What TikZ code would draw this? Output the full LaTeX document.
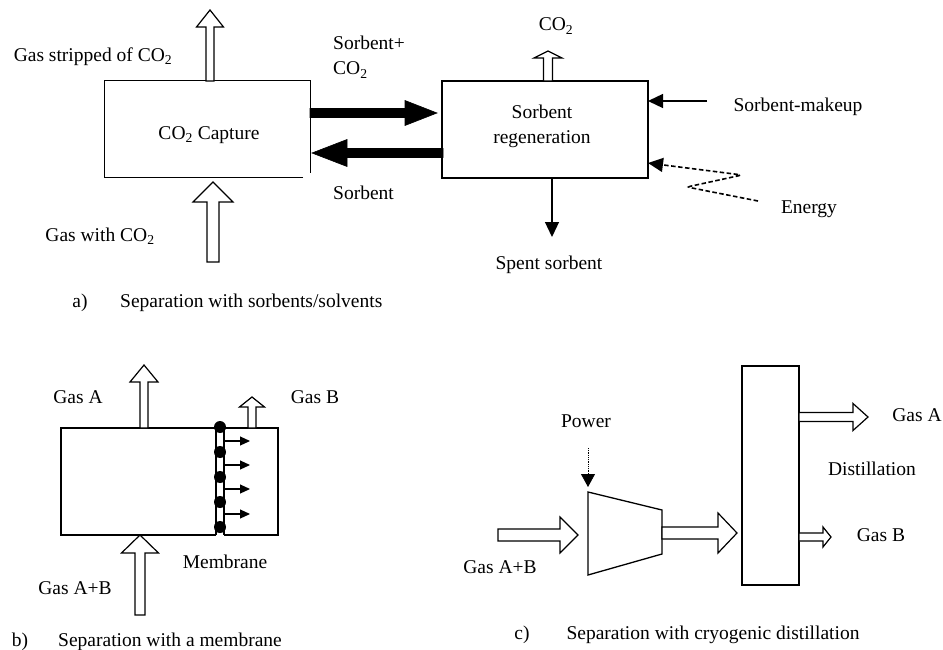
\documentclass[tikz,border=0pt]{standalone}
\usepackage{fontspec}
\setmainfont{Liberation Serif}
\usetikzlibrary{calc,arrows.meta}
\newcommand{\blockarrow}[6]{% style, from, to, shaft half width, head half width, head length
  \path ($(#3)!#6!(#2)$) coordinate (ba-h);
  \draw[#1] ($(#2)!#4!90:(#3)$) -- ($(ba-h)!#4!-90:(#2)$) -- ($(ba-h)!#5!-90:(#2)$) -- (#3)
     -- ($(ba-h)!#5!90:(#2)$) -- ($(ba-h)!#4!90:(#2)$) -- ($(#2)!#4!-90:(#3)$) -- cycle;
}
\tikzset{
  hollow/.style={draw=black, fill=white, line width=1.2pt, line join=miter},
  solidarrow/.style={draw=black, fill=black, line width=0.6pt, line join=miter},
  boxline/.style={draw=black, line width=1.3pt},
  lbl/.style={inner sep=0pt, font=\fontsize{19.5}{22}\selectfont},
  thin arrow/.style={line width=1.3pt, -{Triangle[length=15pt,width=14pt]}},
}
\begin{document}
\begin{tikzpicture}[x=1pt,y=-1pt]
\useasboundingbox (0,0) rectangle (943,650);

% ---------------- a) ----------------
\node[minimum width=205pt, minimum height=96pt, inner sep=0pt] (capbox) at (207.5,129) {};
\draw[boxline] ([xshift=-7pt]capbox.south east) -- (capbox.south west) -- (capbox.north west)
   -- (capbox.north east) -- ([yshift=4pt]capbox.south east);
\node[lbl] (captxt) at (209,135) {CO\textsubscript{2} Capture};

\node[boxline, minimum width=206pt, minimum height=97pt, inner sep=0pt] (reg) at (545,129.5) {};
\node[lbl, align=center] (regtxt) at (542,126) {Sorbent\\[3pt]regeneration};

\coordinate (stripS) at (210,81);  \coordinate (stripE) at (210,10);
\blockarrow{hollow}{stripS}{stripE}{4pt}{13.5pt}{17pt}
\coordinate (gwS) at (213,262);  \coordinate (gwE) at (213,182);
\blockarrow{hollow}{gwS}{gwE}{6pt}{20pt}{20pt}

\coordinate (b1S) at (310,113); \coordinate (b1E) at (437,113);
\blockarrow{solidarrow}{b1S}{b1E}{4.5pt}{12.5pt}{32pt}
\coordinate (b2S) at (443,153); \coordinate (b2E) at (312,153);
\blockarrow{solidarrow}{b2S}{b2E}{4.5pt}{13.5pt}{35pt}

\coordinate (co2S) at (548,81); \coordinate (co2E) at (548,51);
\blockarrow{hollow}{co2S}{co2E}{4.5pt}{14pt}{7pt}

\coordinate (mkS) at (707,101); \coordinate (mkE) at (648,101);
\draw[thin arrow] (mkS) -- (mkE);
\coordinate (enS) at (758,201); \coordinate (en1) at (687,187); \coordinate (en2) at (742,175);
\coordinate (enE) at (648,163);
\draw[line width=1.6pt, dash pattern=on 4.5pt off 2.5pt, rounded corners=3pt, -{Triangle[length=15pt,width=14pt]}]
   (enS) -- (en1) -- (en2) -- (enE);
\coordinate (spS) at (552,178); \coordinate (spE) at (552,237);
\draw[thin arrow] (spS) -- (spE);

\node[lbl] (l1) at (93,57) {Gas stripped of CO\textsubscript{2}};
\node[lbl, anchor=west] (l2) at (333,43) {Sorbent+};
\node[lbl, anchor=west] (l3) at (333,70) {CO\textsubscript{2}};
\node[lbl] (l4) at (556,26) {CO\textsubscript{2}};
\node[lbl, anchor=west] (l5) at (333,193) {Sorbent};
\node[lbl] (l6) at (798,107) {Sorbent-makeup};
\node[lbl] (l7) at (809,209) {Energy};
\node[lbl] (l8) at (549,265) {Spent sorbent};
\node[lbl] (l9) at (100,236) {Gas with CO\textsubscript{2}};
\node[lbl] (la) at (80,303) {a)};
\node[lbl, anchor=west] (lat) at (120,303) {Separation with sorbents/solvents};

% ---------------- b) ----------------
\draw[boxline] (216,428) -- (61,428) -- (61,535) -- (216,535);
\draw[boxline] (224,428) -- (278,428) -- (278,535) -- (224,535);
\draw[boxline] (216,427) -- (216,535);
\draw[boxline] (224,427) -- (224,535);
\foreach \yy/\nm in {427/d1,452/d2,477/d3,502/d4,527/d5}
  \fill (220,\yy) circle (6pt) coordinate (\nm);
\foreach \yy/\nm in {441/p1,465/p2,489/p3,514/p4}{
  \coordinate (\nm S) at (224,\yy); \coordinate (\nm E) at (250,\yy);
  \draw[line width=1.1pt, -{Triangle[length=10pt,width=9pt]}] (\nm S) -- (\nm E);
}
\coordinate (gaS) at (144,428); \coordinate (gaE) at (144,365);
\blockarrow{hollow}{gaS}{gaE}{4pt}{14pt}{17pt}
\coordinate (gbS) at (252,428); \coordinate (gbE) at (252,397);
\blockarrow{hollow}{gbS}{gbE}{4pt}{12.5pt}{10pt}
\coordinate (gabS) at (140,615); \coordinate (gabE) at (140,535);
\blockarrow{hollow}{gabS}{gabE}{5pt}{18.5pt}{18pt}

\node[lbl] (m1) at (78,397) {Gas A};
\node[lbl] (m2) at (315,397) {Gas B};
\node[lbl] (m3) at (225,562) {Membrane};
\node[lbl] (m4) at (75,588) {Gas A+B};
\node[lbl] (mb) at (20,642) {b)};
\node[lbl, anchor=west] (mbt) at (58,642) {Separation with a membrane};

% ---------------- c) ----------------
\node[boxline, minimum width=57pt, minimum height=219pt, inner sep=0pt] (col) at (770.5,475.5) {};
\draw[boxline, line join=miter] (588,492) coordinate (cmpA) -- (662,510) -- (662,554) -- (588,575) -- cycle;
\coordinate (pwS) at (588,448); \coordinate (pwE) at (588,487);
\draw[line width=0.8pt, densely dotted, -{Triangle[length=13pt,width=14pt]}] (pwS) -- (pwE);

\coordinate (c1S) at (498,535); \coordinate (c1E) at (578,535);
\blockarrow{hollow}{c1S}{c1E}{6pt}{18pt}{18pt}
\coordinate (c2S) at (662,533); \coordinate (c2E) at (737,533);
\blockarrow{hollow}{c2S}{c2E}{6pt}{20pt}{19pt}
\coordinate (c3S) at (799,417); \coordinate (c3E) at (868,417);
\blockarrow{hollow}{c3S}{c3E}{4.5pt}{13.5pt}{15pt}
\coordinate (c4S) at (799,537); \coordinate (c4E) at (831,537);
\blockarrow{hollow}{c4S}{c4E}{4pt}{10pt}{8pt}

\node[lbl] (n1) at (586,421) {Power};
\node[lbl] (n2) at (917,415) {Gas A};
\node[lbl] (n3) at (872,469) {Distillation};
\node[lbl] (n4) at (881,535) {Gas B};
\node[lbl] (n5) at (500,567) {Gas A+B};
\node[lbl] (nc) at (522,635) {c)};
\node[lbl] (nct) at (713,635) {Separation with cryogenic distillation};
\end{tikzpicture}
\end{document}
